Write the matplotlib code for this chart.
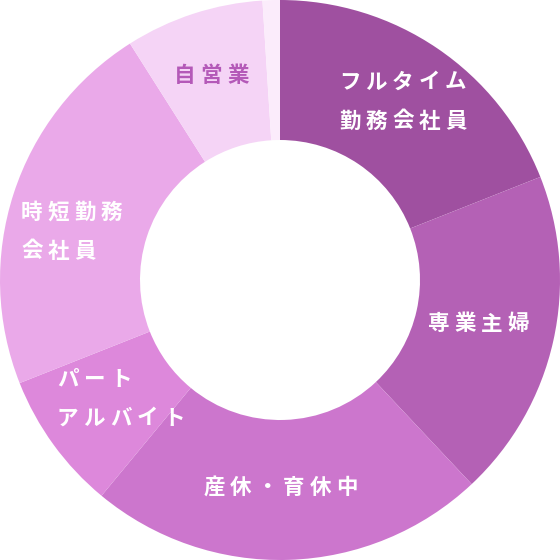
import matplotlib
matplotlib.use('Agg')
import matplotlib.pyplot as plt
from matplotlib import transforms

plt.rcParams['font.family'] = ['Noto Sans CJK JP', 'DejaVu Sans']

# share of each group, clockwise from 12 o'clock
groups = ['フルタイム\n勤務会社員', '専業主婦', '産休・育休中', 'パート\nアルバイト',
          '時短勤務\n会社員', '自営業', 'その他']
shares = [19, 19, 23, 8, 22, 8, 1]
colors = ['#9f50a0', '#b461b5', '#cc76cd', '#dd88db', '#eaa9e9', '#f5d4f6', '#fbecfb']

# label placement (pixel coords of the 560px picture, first line centre) and alignment
label_px = [(339, 82), (478, 324), (280, 487), (57, 379), (21, 212), (174, 75), None]
label_ha = ['left', 'center', 'center', 'left', 'left', 'left', None]
label_col = ['white', 'white', 'white', 'white', 'white', '#b459b8', None]

STEP = 26.5    # px between characters (letter spacing)
LINE = 39      # px between lines
FS = 15.5

fig = plt.figure(figsize=(5.6, 5.6), dpi=100)
ax = fig.add_axes([0, 0, 1, 1])
ax.pie(shares, colors=colors, startangle=90, counterclock=False, radius=1.0,
       wedgeprops=dict(width=0.5, linewidth=0))
ax.set_xlim(-1, 1)
ax.set_ylim(-1, 1)
ax.set_aspect('equal')
ax.axis('off')


def spaced_text(px, py, s, ha, col):
    # draws a line with wide letter spacing, one glyph per text object
    n = len(s)
    if ha == 'center':
        px = px - ((n - 1) * STEP + 20) / 2
    x = (px - 280) / 280
    y = (280 - py) / 280
    for i, ch in enumerate(s):
        tr = transforms.offset_copy(ax.transData, fig=fig, x=i * STEP, y=0, units='dots')
        ax.text(x, y, ch, ha='left', va='center', color=col, fontsize=FS,
                fontweight='bold', transform=tr)


for name, pos, ha, col in zip(groups, label_px, label_ha, label_col):
    if pos is None:
        continue
    for k, line in enumerate(name.split('\n')):
        spaced_text(pos[0], pos[1] + k * LINE, line, ha, col)

fig.savefig('out.png', dpi=100)
